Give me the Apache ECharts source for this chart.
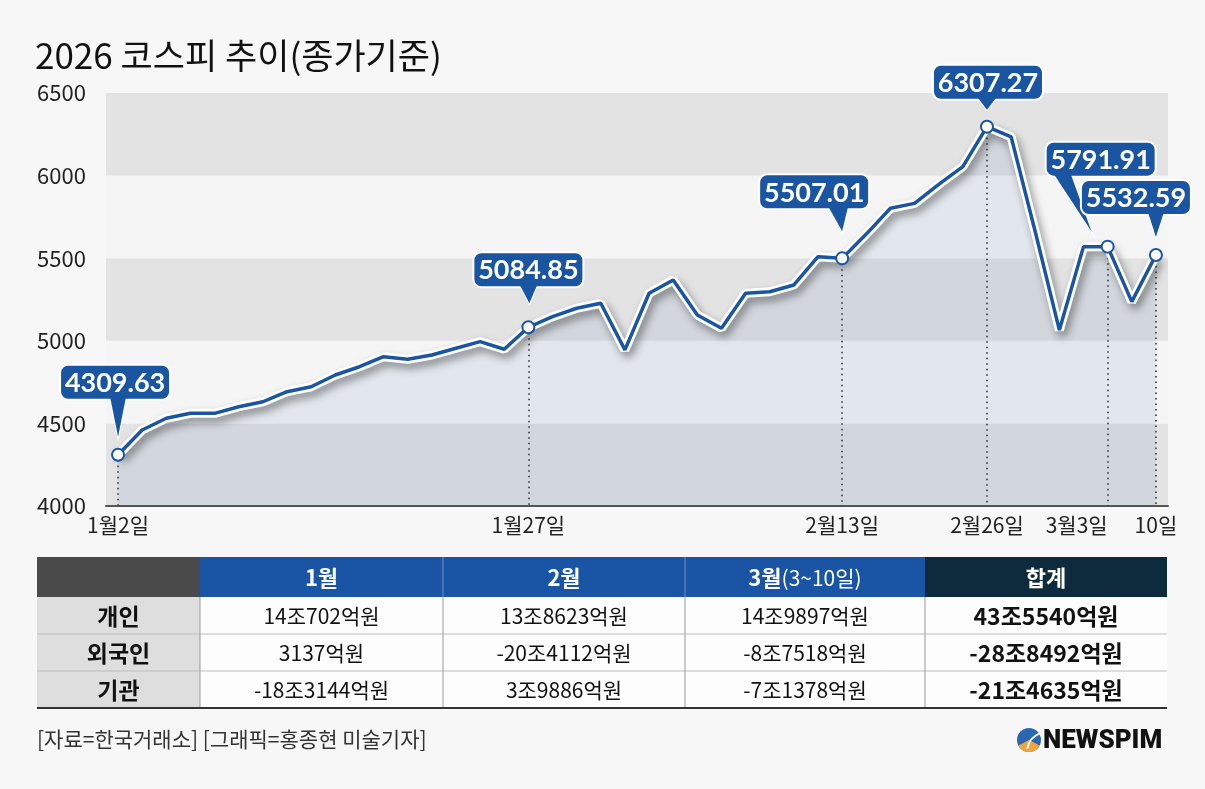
<!DOCTYPE html>
<html>
<head>
<meta charset="utf-8">
<script src="https://cdn.jsdelivr.net/npm/echarts@6/dist/echarts.min.js"></script>
<style>
html,body{margin:0;padding:0;background:#f7f7f7;}
#chart{width:1205px;height:789px;}
</style>
</head>
<body>
<div id="chart"></div>
<script>
// trading days plotted (category axis)
var days = ['1/2','1/5','1/6','1/7','1/8','1/9','1/12','1/13','1/14','1/15','1/16',
  '1/19','1/20','1/21','1/22','1/23','1/26','1/27','1/28','1/29','1/30',
  '2/2','2/3','2/4','2/5','2/6','2/9','2/10','2/11','2/12','2/13',
  '2/19','2/20','2/23','2/24','2/25','2/26','2/27',
  '3/3','3/4','3/5','3/6','3/9','3/10'];
// KOSPI close as drawn
var kospi = [4310,4460,4531,4561,4561,4601,4631,4692,4722,4793,
  4843,4904,4888,4914,4955,4995,4949,5082,5146,5197,
  5227,4945,5288,5368,5156,5076,5288,5297,5338,5509,
  5499,5646,5802,5832,5947,6054,6296,6235,5660,5065,
  5570,5570,5237,5519];
// x tick labels
var tickIdx = [0,17,30,36,41,43];
var tickText = ['1월2일','1월27일','2월13일','2월26일','3월3일','10일'];
// callout points
var calloutIdx = [0,17,30,36,41,43];
var calloutText = ['4309.63','5084.85','5507.01','6307.27','5791.91','5532.59'];
// y ticks
var yMin = 4000, yMax = 6500, yStep = 500;

// table
var tableHead = ['1월','2월','3월','합계'];
var rowNames = ['개인','외국인','기관'];
var janVals = ['14조702억원','3137억원','-18조3144억원'];
var febVals = ['13조8623억원','-20조4112억원','3조9886억원'];
var marVals = ['14조9897억원','-8조7518억원','-7조1378억원'];
var totVals = ['43조5540억원','-28조8492억원','-21조4635억원'];

var FONT = '"Noto Sans CJK KR", "Noto Sans", sans-serif';
var BLUE = '#1a55a2';

var chart = echarts.init(document.getElementById('chart'));

var lineData = kospi.map(function (v, i) {
  return { value: v, symbol: calloutIdx.indexOf(i) >= 0 ? 'circle' : 'none' };
});
var dropLines = calloutIdx.map(function (i) {
  return [{ coord: [i, kospi[i]] }, { coord: [i, yMin] }];
});
var xData = days.map(function (d, i) {
  return i === 41 ? { value: d, textStyle: { align: 'right' } } : d;
});

chart.setOption({
  backgroundColor: '#f7f7f7',
  animation: false,
  grid: { left: 106, right: 37, top: 93, bottom: 283 },
  xAxis: {
    type: 'category',
    data: xData,
    boundaryGap: true,
    axisLine: { lineStyle: { color: '#555', width: 2 } },
    axisTick: { show: false },
    axisLabel: {
      interval: function (i) { return tickIdx.indexOf(i) >= 0; },
      formatter: function (v, i) {
        var k = tickIdx.indexOf(i);
        return k < 0 ? '' : tickText[k];
      },
      color: '#222', fontSize: 21, fontFamily: FONT, margin: 9
    }
  },
  yAxis: {
    type: 'value',
    min: yMin, max: yMax, interval: yStep,
    axisLine: { show: false },
    axisTick: { show: false },
    splitLine: { show: false },
    splitArea: { show: true, areaStyle: { color: ['#e3e3e3', '#f5f5f5'] } },
    axisLabel: { color: '#222', fontSize: 22, fontFamily: FONT, align: 'left', margin: 69,
      formatter: function (v) { return String(v); } }
  },
  series: [
    {
      type: 'line',
      data: kospi,
      symbol: 'none',
      silent: true,
      z: 2,
      lineStyle: {
        color: '#fff', width: 9,
        shadowColor: 'rgba(0,0,0,0.4)', shadowBlur: 9, shadowOffsetX: 3, shadowOffsetY: 5
      },
      areaStyle: { color: 'rgba(40,100,170,0.13)', origin: 'start' },
      markLine: {
        silent: true,
        z: 2,
        symbol: ['none', 'none'],
        label: { show: false },
        lineStyle: { type: [1.5, 4], color: '#333', width: 1.6, shadowBlur: 0, shadowOffsetX: 0, shadowOffsetY: 0 },
        data: dropLines
      }
    },
    {
      type: 'line',
      data: lineData,
      z: 3,
      symbolSize: 12,
      lineStyle: { color: BLUE, width: 3.5 },
      itemStyle: { color: '#fff', borderColor: BLUE, borderWidth: 2 }
    }
  ]
});

// callout placement: box centre dx, box bottom above point, tail tip and base
var calloutLayout = [
  { dx: -3, bottom: 55, tip: [0, 18], base: [-8, 8] },
  { dx: 0, bottom: 40, tip: [1, 24], base: [-9, 9] },
  { dx: -28, bottom: 49, tip: [0, 27], base: [-14, 6] },
  { dx: 1, bottom: 27, tip: [0, 17], base: [-10, 10] },
  { dx: -7, bottom: 70, tip: [-16, 15], base: [-54, -37] },
  { dx: -20, bottom: 40, tip: [0, 18], base: [-8, 8] }
];

var g = [];

g.push({
  type: 'text', z: 10,
  style: { text: '2026 코스피 추이(종가기준)', x: 35, y: 56, fill: '#111',
    fontSize: 35, fontFamily: FONT, verticalAlign: 'middle' }
});

calloutIdx.forEach(function (i, k) {
  var p = chart.convertToPixel({ xAxisIndex: 0, yAxisIndex: 0 }, [i, kospi[i]]);
  var L = calloutLayout[k];
  var w = 110, h = 35;
  var cx = p[0] + L.dx, by = p[1] - L.bottom;
  var tail = [[p[0] + L.base[0], by - 3], [p[0] + L.base[1], by - 3], [p[0] + L.tip[0], p[1] - L.tip[1]]];
  g.push({ type: 'polygon', z: 20 + k * 3, shape: { points: tail },
    style: { fill: BLUE, stroke: '#fff', lineWidth: 2 } });
  g.push({ type: 'rect', z: 21 + k * 3, shape: { x: cx - w / 2, y: by - h, width: w, height: h, r: 8 },
    style: { fill: BLUE, stroke: '#fff', lineWidth: 2 } });
  g.push({ type: 'polygon', z: 22 + k * 3, shape: { points: tail }, style: { fill: BLUE } });
  g.push({ type: 'text', z: 22 + k * 3,
    style: { text: calloutText[k], x: cx, y: by - h / 2 + 1, fill: '#fff', fontSize: 27,
      fontWeight: 'bold', fontFamily: 'Lato, sans-serif', align: 'center', verticalAlign: 'middle' } });
});

// table
var colX = [37, 200, 443, 685, 925, 1167];
var rowY = [557, 597, 634, 671, 708];
var headFill = ['#4a4a4a', '#1a55a5', '#1a55a5', '#1a55a5', '#0e2a3d'];
for (var c = 0; c < 5; c++) {
  g.push({ type: 'rect', z: 5, shape: { x: colX[c], y: rowY[0], width: colX[c + 1] - colX[c], height: rowY[1] - rowY[0] },
    style: { fill: headFill[c] } });
  if (c > 0) {
    var ht = c === 3 ? '{b|' + tableHead[2] + '}{n|(3~10일)}' : '{b|' + tableHead[c - 1] + '}';
    g.push({ type: 'text', z: 6,
      style: { text: ht, x: (colX[c] + colX[c + 1]) / 2, y: (rowY[0] + rowY[1]) / 2 + 1, align: 'center', verticalAlign: 'middle',
        rich: {
          b: { fill: '#fff', fontSize: 22, fontWeight: 'bold', fontFamily: FONT },
          n: { fill: '#fff', fontSize: 21, fontFamily: FONT }
        } } });
  }
}
g.push({ type: 'line', z: 6, shape: { x1: colX[2], y1: rowY[0], x2: colX[2], y2: rowY[1] }, style: { stroke: '#6d8fc4', lineWidth: 1 } });
g.push({ type: 'line', z: 6, shape: { x1: colX[3], y1: rowY[0], x2: colX[3], y2: rowY[1] }, style: { stroke: '#6d8fc4', lineWidth: 1 } });

var cols = [janVals, febVals, marVals, totVals];
for (var r = 0; r < 3; r++) {
  var y0 = rowY[r + 1], y1 = rowY[r + 2], ym = (y0 + y1) / 2 + 1;
  g.push({ type: 'rect', z: 5, shape: { x: colX[0], y: y0, width: colX[1] - colX[0], height: y1 - y0 }, style: { fill: '#dedede' } });
  g.push({ type: 'rect', z: 5, shape: { x: colX[1], y: y0, width: colX[5] - colX[1], height: y1 - y0 }, style: { fill: '#fdfdfd' } });
  g.push({ type: 'text', z: 6, style: { text: rowNames[r], x: (colX[0] + colX[1]) / 2, y: ym, fill: '#111',
    fontSize: 23, fontWeight: 'bold', fontFamily: FONT, align: 'center', verticalAlign: 'middle' } });
  for (var c2 = 0; c2 < 4; c2++) {
    var bold = c2 === 3;
    g.push({ type: 'text', z: 6, style: { text: cols[c2][r], x: (colX[c2 + 1] + colX[c2 + 2]) / 2, y: ym, fill: '#111',
      fontSize: bold ? 23 : 21, fontWeight: bold ? 'bold' : 'normal', fontFamily: FONT, align: 'center', verticalAlign: 'middle' } });
  }
  if (r < 2) {
    g.push({ type: 'line', z: 7, shape: { x1: colX[0], y1: y1, x2: colX[5], y2: y1 }, style: { stroke: '#bdbdbd', lineWidth: 1 } });
  }
}
for (var c3 = 1; c3 < 5; c3++) {
  g.push({ type: 'line', z: 7, shape: { x1: colX[c3], y1: rowY[1], x2: colX[c3], y2: rowY[4] }, style: { stroke: '#9a9a9a', lineWidth: 1 } });
}
g.push({ type: 'line', z: 7, shape: { x1: colX[0], y1: rowY[4], x2: colX[5], y2: rowY[4] }, style: { stroke: '#333', lineWidth: 2 } });

// footer
g.push({ type: 'text', z: 6, style: { text: '[자료=한국거래소] [그래픽=홍종현 미술기자]', x: 37, y: 739, fill: '#333',
  fontSize: 21, fontFamily: FONT, verticalAlign: 'middle' } });
g.push({ type: 'circle', z: 6, shape: { cx: 1029, cy: 740, r: 12 }, style: { fill: '#2b67b0' } });
g.push({ type: 'sector', z: 7, shape: { cx: 1029, cy: 740, r: 12, startAngle: Math.PI * 0.15, endAngle: Math.PI * 0.85 },
  style: { fill: '#f0a43a' } });
g.push({ type: 'arc', z: 8, shape: { cx: 1047, cy: 752, r: 20, startAngle: Math.PI * 1.05, endAngle: Math.PI * 1.4 },
  style: { stroke: '#fff', lineWidth: 2, fill: null } });
g.push({ type: 'text', z: 6, style: { text: 'NEWSPIM', x: 1043, y: 741, fill: '#111', fontSize: 26, fontWeight: 900,
  fontFamily: 'Roboto, sans-serif', verticalAlign: 'middle' } });

chart.setOption({ graphic: g });
</script>
</body>
</html>
